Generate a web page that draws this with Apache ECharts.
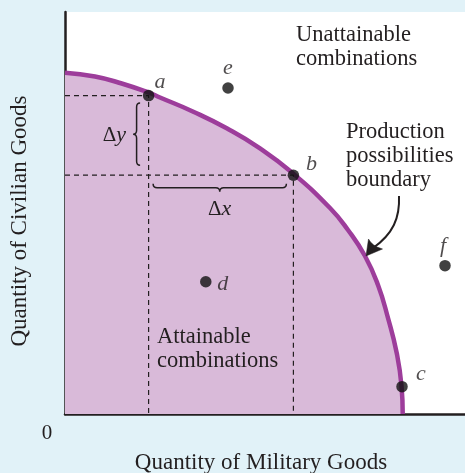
<!DOCTYPE html>
<html><head><meta charset="utf-8">
<script src="https://cdn.jsdelivr.net/npm/echarts@6/dist/echarts.min.js"></script>
<style>html,body{margin:0;padding:0;background:#e1f2f8;} #c{width:465px;height:473px;}</style>
</head><body><div id="c"></div>
<script>
const xAxisName = 'Quantity of Military Goods';
const yAxisName = 'Quantity of Civilian Goods';
const originLabel = '0';
const curveX = [0, 7.5, 14.18, 20.83, 23.75, 32.08, 40.43, 48.75, 56.75, 66.25, 70.75, 75.0, 78.25, 80.75, 82.93, 84.13, 84.43];
const curveY = [84.9, 83.96, 82.21, 79.98, 78.73, 75.2, 71.07, 66.09, 60.07, 51.24, 45.77, 39.3, 32.09, 23.88, 15.17, 6.97, 0];
const pointNames = ['a', 'b', 'c', 'd', 'e', 'f'];
const pointX = [20.9, 57.1, 84.25, 35.2, 40.75, 95];
const pointY = [79.2, 59.4, 6.8, 32.9, 81.1, 36.9];
const regionTexts = ['Unattainable\ncombinations', 'Attainable\ncombinations', 'Production\npossibilities\nboundary'];
const deltaTexts = ['Δ', 'y', 'x'];

const SERIF = '"Liberation Serif", "DejaVu Serif", serif';
const INK = '#231f20';
const labelPlace = {a: [11.5, -13.5], b: [18, -11], c: [19, -12], d: [17, 2], e: [0, -19.5], f: [-2, -19.5]};

const chart = echarts.init(document.getElementById('c'), null, {renderer: 'canvas'});
const pt = n => [pointX[pointNames.indexOf(n)], pointY[pointNames.indexOf(n)]];
const A = pt('a'), B = pt('b');

const axisCommon = {
  type: 'value', min: 0, max: 100, nameLocation: 'middle',
  axisLine: {show: true, onZero: false, lineStyle: {color: INK, width: 2.5}},
  axisTick: {show: false}, axisLabel: {show: false}, splitLine: {show: false}
};

function annotations(params, api) {
  const pa = api.coord(A), pb = api.coord(B);
  const r = 4;
  const R = pa[0] - 8.5, L = R - 7, X = (R + L) / 2, T = pa[1] + 7.5, Bt = pb[1] - 10, M = (T + Bt) / 2;
  const vBrace = `M${R},${T} Q${X},${T} ${X},${T + r} L${X},${M - r} Q${X},${M} ${L},${M} Q${X},${M} ${X},${M + r} L${X},${Bt - r} Q${X},${Bt} ${R},${Bt}`;
  const HL = pa[0] + 4.5, HR = pb[0] - 7, HT = pb[1] + 8.5, HB = HT + 8, HY = (HT + HB) / 2, HM = (HL + HR) / 2;
  const hBrace = `M${HL},${HT} Q${HL},${HY} ${HL + r},${HY} L${HM - r},${HY} Q${HM},${HY} ${HM},${HB} Q${HM},${HY} ${HM + r},${HY} L${HR - r},${HY} Q${HR},${HY} ${HR},${HT}`;
  const rich = {u: {font: `21px ${SERIF}`, fill: INK}, i: {font: `italic 22px ${SERIF}`, fill: INK}};
  return {type: 'group', children: [
    {type: 'path', shape: {pathData: vBrace}, style: {fill: null, stroke: INK, lineWidth: 1.5}},
    {type: 'path', shape: {pathData: hBrace}, style: {fill: null, stroke: INK, lineWidth: 1.5}},
    {type: 'text', x: L - 7, y: M + 1, style: {text: `{u|${deltaTexts[0]}}{i|${deltaTexts[1]}}`, align: 'right', verticalAlign: 'middle', rich}},
    {type: 'text', x: HM, y: HB + 17.5, style: {text: `{u|${deltaTexts[0]}}{i|${deltaTexts[2]}}`, align: 'center', verticalAlign: 'middle', rich}},
    {type: 'path', shape: {pathData: 'M399,196 C400,218 393,234 373,248'}, style: {fill: null, stroke: INK, lineWidth: 2}},
    {type: 'path', shape: {pathData: 'M366,256 L368.5,239 Q372,246 382.5,249 Z'}, style: {fill: INK, stroke: INK, lineWidth: 0.5}}
  ]};
}

const regionStyle = {font: `22.5px ${SERIF}`, fill: INK, lineHeight: 24, align: 'left', verticalAlign: 'top'};

chart.setOption({
  backgroundColor: '#e1f2f8',
  animation: false,
  grid: {left: 65, right: 0, top: 12, bottom: 59, show: true, backgroundColor: '#ffffff', borderWidth: 0, outerBoundsMode: 'none', containLabel: false},
  xAxis: Object.assign({}, axisCommon, {name: xAxisName, nameGap: 37,
    nameTextStyle: {fontFamily: SERIF, fontSize: 23, color: INK, padding: [0, 8, 0, 0]}}),
  yAxis: Object.assign({}, axisCommon, {name: yAxisName, nameGap: 34,
    nameTextStyle: {fontFamily: SERIF, fontSize: 23, color: INK, padding: [0, 16, 0, 0]}}),
  series: [
    {type: 'line', data: curveX.map((x, i) => [x, curveY[i]]), smooth: 0.5, symbol: 'none',
      lineStyle: {color: '#9d3d9b', width: 4.5}, areaStyle: {color: '#d9bad9', opacity: 1}, z: 2},
    {type: 'line', data: [[0, A[1]], A, [A[0], 0]], symbol: 'none',
      lineStyle: {type: [5, 4], color: INK, width: 1.2}, z: 3},
    {type: 'line', data: [[0, B[1]], B, [B[0], 0]], symbol: 'none',
      lineStyle: {type: [5, 4], color: INK, width: 1.2}, z: 3},
    {type: 'scatter', symbolSize: 11.5, itemStyle: {color: '#111111'}, z: 5,
      data: pointNames.map((n, i) => ({name: n, value: [pointX[i], pointY[i]], label: {offset: labelPlace[n]}})),
      label: {show: true, position: 'inside', formatter: '{b}', fontFamily: SERIF, fontStyle: 'italic', fontSize: 22, color: INK}},
    {type: 'custom', coordinateSystem: 'cartesian2d', data: [[0, 0]], renderItem: annotations, silent: true, z: 6, clip: false}
  ],
  graphic: [
    {type: 'text', x: 296, y: 23, z: 10, style: Object.assign({text: regionTexts[0]}, regionStyle)},
    {type: 'text', x: 157, y: 325, z: 10, style: Object.assign({text: regionTexts[1]}, regionStyle)},
    {type: 'text', x: 346, y: 120.5, z: 10, style: Object.assign({text: regionTexts[2]}, regionStyle)},
    {type: 'text', x: 47, y: 433, z: 10, style: {text: originLabel, font: `21px ${SERIF}`, fill: INK, align: 'center', verticalAlign: 'middle'}}
  ]
});
</script></body></html>
